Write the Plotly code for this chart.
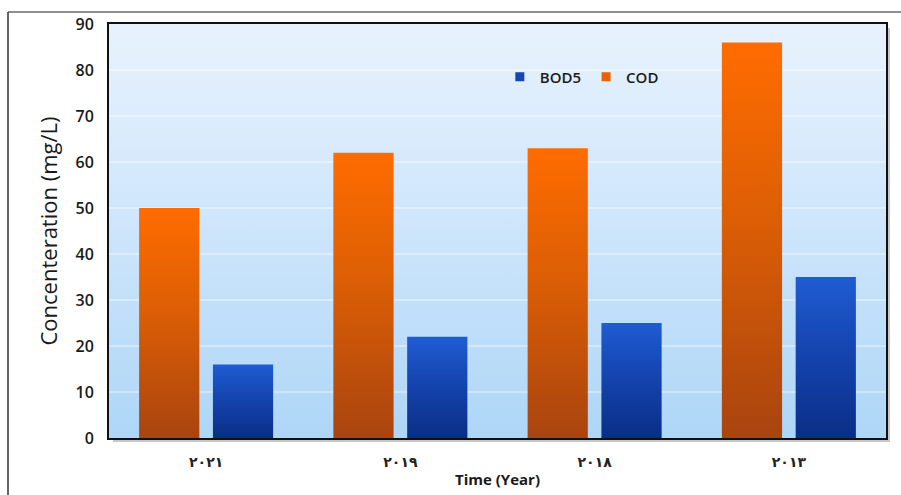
import plotly.graph_objects as go

# Sampling campaigns (labels in Arabic-Indic digits) and measured concentrations
years = ["٢٠٢١", "٢٠١٩", "٢٠١٨", "٢٠١٣"]
cod = [50, 62, 63, 86]
bod5 = [16, 22, 25, 35]
y_ticks = [0, 10, 20, 30, 40, 50, 60, 70, 80, 90]

BAR_W = 0.31
OFFSETS = {"COD": -0.19, "BOD5": 0.19}
GRAD = {
    "COD": [[0, "#A9440F"], [0.55, "#DC5E05"], [1, "#FF6C00"]],
    "BOD5": [[0, "#0A2E86"], [0.6, "#1647B4"], [1, "#1F5CD2"]],
}
SOLID = {"COD": "#E8620A", "BOD5": "#1646B0"}

PLOT_W, PLOT_H = 777, 414

fig = go.Figure()

# plot-area background with a vertical light-blue gradient
fig.add_trace(go.Scatter(
    x=[-0.5, -0.5, 3.5, 3.5, -0.5], y=[0, 90, 90, 0, 0],
    mode="none", fill="toself", hoverinfo="skip", showlegend=False,
    fillgradient=dict(type="vertical",
                      colorscale=[[0, "#AED6F7"], [0.5, "#CDE5FB"], [1, "#E8F2FD"]]),
))

# faint white gridlines
for t in y_ticks[1:-1]:
    fig.add_trace(go.Scatter(
        x=[-0.5, 3.5], y=[t, t], mode="lines", hoverinfo="skip", showlegend=False,
        line=dict(color="rgba(255,255,255,0.7)", width=1),
    ))


def add_bars(name, values):
    for i, v in enumerate(values):
        c = i + OFFSETS[name]
        x0, x1 = c - BAR_W / 2, c + BAR_W / 2
        fig.add_trace(go.Scatter(
            x=[x0, x0, x1, x1, x0], y=[0, v, v, 0, 0],
            mode="none", fill="toself", showlegend=False, legendgroup=name,
            name=name, hovertemplate=f"{years[i]}: {v}<extra>{name}</extra>",
            fillgradient=dict(type="vertical", colorscale=GRAD[name], start=0, stop=v),
        ))


add_bars("COD", cod)
add_bars("BOD5", bod5)

# legend entries (small square swatches)
for name in ["BOD5", "COD"]:
    fig.add_trace(go.Scatter(x=[None], y=[None], name=name, legendgroup=name,
                             mode="markers",
                             marker=dict(symbol="square", size=9, color=SOLID[name])))

# outer chart frame (top and left edges fall inside the canvas)
fig.add_shape(type="line", xref="paper", yref="paper",
              x0=-101 / PLOT_W, x1=1.3, y0=426 / PLOT_H, y1=426 / PLOT_H,
              line=dict(color="#6A6A6A", width=1.5), layer="below")
fig.add_shape(type="line", xref="paper", yref="paper",
              x0=-101 / PLOT_W, x1=-101 / PLOT_W, y0=-0.3, y1=426 / PLOT_H,
              line=dict(color="#333333", width=1.5), layer="below")

# soft drop shadow behind the plot frame
fig.add_shape(type="rect", xref="paper", yref="paper",
              x0=4 / PLOT_W, x1=1 + 4 / PLOT_W, y0=-4 / PLOT_H, y1=1 - 4 / PLOT_H,
              line=dict(width=0), fillcolor="rgba(0,0,0,0.22)", layer="below")

fig.update_layout(
    width=901, height=495,
    margin=dict(l=109, r=15, t=24, b=57, autoexpand=False),
    paper_bgcolor="white",
    plot_bgcolor="rgba(0,0,0,0)",
    font=dict(family="Open Sans, Liberation Sans, sans-serif", color="#1A1A1A"),
    showlegend=True,
    legend=dict(orientation="h", x=0.503, y=0.872, xanchor="left", yanchor="middle",
                bgcolor="rgba(0,0,0,0)",
                font=dict(size=15, color="#1A1A1A", weight=600),
                itemwidth=30, traceorder="normal"),
    xaxis=dict(
        range=[-0.5, 3.5], tickvals=[0, 1, 2, 3], ticktext=years,
        tickfont=dict(family="DejaVu Sans, sans-serif", size=14, color="#222",
                      weight="bold"),
        showgrid=False, zeroline=False, ticks="", ticklabelstandoff=10,
        showline=True, linecolor="#111", linewidth=2, mirror=True,
        automargin=False,
        title=dict(text="<b>Time (Year)</b>", font=dict(size=15, color="#1A1A1A"),
                   standoff=6),
    ),
    yaxis=dict(
        range=[0, 90], tickvals=y_ticks,
        tickfont=dict(size=16, color="#1A1A1A", weight=600),
        showgrid=False, zeroline=False, ticks="", ticklabelstandoff=10,
        showline=True, linecolor="#111", linewidth=2, mirror=True,
        automargin=False,
        title=dict(text="Concenteration (mg/L)", font=dict(size=22, color="#1A1A1A"),
                   standoff=12),
    ),
)

fig.write_html("out.html")
